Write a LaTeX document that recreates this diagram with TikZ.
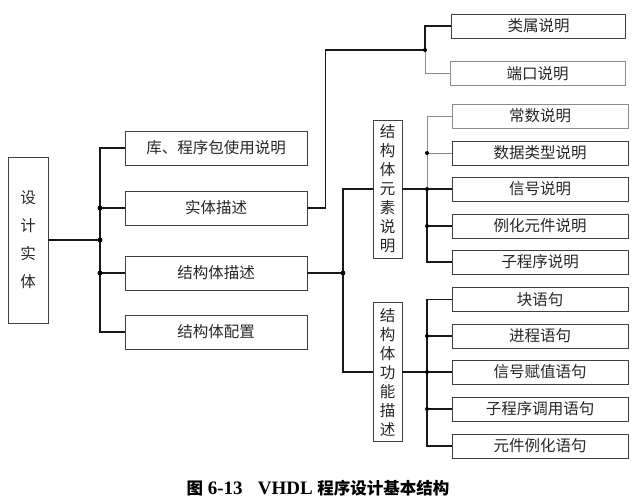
\documentclass[tikz,border=0pt]{standalone}
\usepackage{fontspec}
\setmainfont{Liberation Serif}
\newfontfamily\cjk{Noto Sans CJK SC}
\begin{document}
\begin{tikzpicture}[x=1pt, y=-1pt,
  box/.style={draw=black!75, line width=0.9pt, inner sep=0pt, text=black!85,
    font=\cjk\fontsize{15.5}{17}\selectfont},
  leftbox/.style={box, minimum width=182pt, minimum height=34pt},
  rightbox/.style={box, minimum width=176pt, minimum height=24pt},
  tallbox/.style={box, minimum width=29pt, minimum height=138pt, align=center,
    font=\cjk\fontsize{15.5}{19}\selectfont},
  link/.style={line width=1.7pt, black!90},
  faint/.style={line width=0.7pt, black!45}]
  \useasboundingbox (0,0) rectangle (634,502);

  % Design entity and its four parts
  \node[box, minimum width=40pt, minimum height=166pt, align=center,
    font=\cjk\fontsize{15.5}{28}\selectfont] (design) at (28,240) {设\\计\\实\\体};
  \node[leftbox] (lib)  at (216,148) {库、程序包使用说明};
  \node[leftbox] (ent)  at (216,208) {实体描述};
  \node[leftbox] (arch) at (216,273) {结构体描述};
  \node[leftbox] (conf) at (216,332) {结构体配置};

  \coordinate (j0) at (100,240);
  \draw[link] (design.east) -- (j0);
  \draw[link] (lib.west) -| (j0);
  \draw[link] (conf.west) -| (j0);
  \draw[link] (ent.west) -- (j0 |- ent.west);
  \draw[link] (arch.west) -- (j0 |- arch.west);
  \foreach \p in {j0, j0 |- ent.west, j0 |- arch.west}
    \fill (\p) circle (2.4pt);

  % Entity: generics and ports
  \node[rightbox, minimum width=174pt] (gen)  at (538.5,26) {类属说明};
  \node[rightbox, minimum width=175pt, draw=black!45] (port) at (537.5,73.5) {端口说明};
  \coordinate (j1) at (425,50);
  \draw[link] (ent.east) -- ++(18,0) |- (j1);
  \draw[link] (gen.west) -| (j1);
  \draw[faint] (port.west) -| (j1);
  \fill (j1) circle (2pt);

  % Architecture: declarations and statements
  \node[tallbox] (elem) at (387.5,189) {结\\构\\体\\元\\素\\说\\明};
  \node[tallbox, minimum height=139pt] (func) at (387.5,372) {结\\构\\体\\功\\能\\描\\述};
  \coordinate (j2) at (343,273);
  \draw[link] (arch.east) -- (j2);
  \draw[link] (elem.west) -| (j2);
  \draw[link] (func.west) -| (j2);
  \fill (j2) circle (2.4pt);

  \node[rightbox, draw=black!45] (const) at (540,116) {常数说明};
  \node[rightbox] (dtype) at (540,153) {数据类型说明};
  \node[rightbox] (sig)   at (540,189) {信号说明};
  \node[rightbox] (comp)  at (540,226) {例化元件说明};
  \node[rightbox] (sub)   at (540,262) {子程序说明};
  \coordinate (j3) at (427,189);
  \draw[link] (elem.east) -- (j3);
  \draw[faint] (const.west) -| (j3);
  \draw[faint] (dtype.west) -- (j3 |- dtype.west);
  \draw[link] (sig.west) -- (j3);
  \draw[link] (comp.west) -- (j3 |- comp.west);
  \draw[link] (sub.west) -| (j3);
  \foreach \p in {j3, j3 |- dtype.west, j3 |- comp.west}
    \fill (\p) circle (2pt);

  \node[rightbox] (block)  at (540,299.5) {块语句};
  \node[rightbox] (proc)   at (540,336) {进程语句};
  \node[rightbox] (assign) at (540,372) {信号赋值语句};
  \node[rightbox] (call)   at (540,409) {子程序调用语句};
  \node[rightbox] (inst)   at (540,446) {元件例化语句};
  \coordinate (j4) at (427,372);
  \draw[link] (func.east) -- (j4);
  \draw[link] (block.west) -| (j4);
  \draw[link] (proc.west) -- (j4 |- proc.west);
  \draw[link] (assign.west) -- (j4 |- assign.west);
  \draw[link] (call.west) -- (j4 |- call.west);
  \draw[link] (inst.west) -| (j4);
  \foreach \p in {j4, j4 |- proc.west, j4 |- call.west}
    \fill (\p) circle (2pt);

  % Caption
  \node[font=\bfseries\fontsize{19}{21}\selectfont] (caption) at (318,488)
    {{\cjk\bfseries\fontsize{16.5}{18}\selectfont 图} 6-13\hspace{0.8em}VHDL
     {\cjk\bfseries\fontsize{16.5}{18}\selectfont 程序设计基本结构}};
\end{tikzpicture}
\end{document}
